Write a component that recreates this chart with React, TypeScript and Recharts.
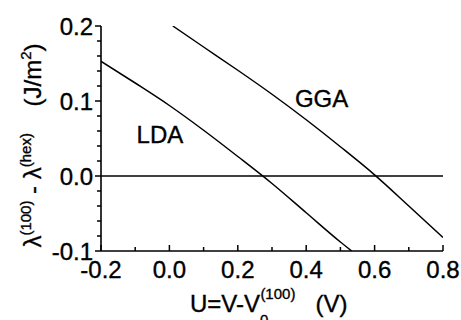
import React from "react";
import {
  LineChart,
  Line,
  XAxis,
  YAxis,
  ReferenceLine,
  ReferenceDot,
  Label,
} from "recharts";

// potential U (V) and surface energy difference (J/m^2)
const ldaU = [-0.2, -0.1, 0.0, 0.1, 0.2, 0.3, 0.4, 0.5, 0.533];
const ldaE = [0.153, 0.124, 0.094, 0.061, 0.026, -0.01, -0.049, -0.088, -0.1];
const ggaU = [0.01, 0.1, 0.2, 0.3, 0.4, 0.5, 0.6, 0.7, 0.8];
const ggaE = [0.2, 0.172, 0.141, 0.109, 0.075, 0.039, 0.0015, -0.04, -0.082];

const xTicks = [-0.2, -0.1, 0.0, 0.1, 0.2, 0.3, 0.4, 0.5, 0.6, 0.7, 0.8];
const xLabelTicks = [-0.2, 0.0, 0.2, 0.4, 0.6, 0.8];
const yTicks = [
  -0.1, -0.08, -0.06, -0.04, -0.02, 0.0, 0.02, 0.04, 0.06, 0.08, 0.1, 0.12,
  0.14, 0.16, 0.18, 0.2,
];
const yLabelTicks = [-0.1, 0.0, 0.1, 0.2];

const ldaData = ldaU.map((u, i) => ({ u, e: ldaE[i] }));
const ggaData = ggaU.map((u, i) => ({ u, e: ggaE[i] }));

const FONT = "'Liberation Sans', Arial, sans-serif";
const textStyle = { fill: "#000", stroke: "#000", strokeWidth: 0.35 };

const hasLabel = (list: number[], v: number) =>
  list.some((t) => Math.abs(t - v) < 1e-6);

const XTick = (props: any) => {
  const { x, y, payload } = props;
  const major = hasLabel(xLabelTicks, payload.value);
  return (
    <g>
      <line x1={x} x2={x} y1={y} y2={y - (major ? 6 : 4)} stroke="#000" strokeWidth={1.5} />
      {major && (
        <text x={x} y={y + 27} textAnchor="middle" fontSize={24} fontFamily={FONT} style={textStyle}>
          {payload.value.toFixed(1)}
        </text>
      )}
    </g>
  );
};

const YTick = (props: any) => {
  const { x, y, payload } = props;
  const major = hasLabel(yLabelTicks, payload.value);
  return (
    <g>
      <line x1={x - (major ? 6 : 4)} x2={x} y1={y} y2={y} stroke="#000" strokeWidth={1.5} />
      {major && (
        <text x={x - 8} y={y + 9} textAnchor="end" fontSize={24} fontFamily={FONT} style={textStyle}>
          {payload.value.toFixed(1)}
        </text>
      )}
    </g>
  );
};

const YTitle = (props: any) => {
  const { viewBox } = props;
  const cx = 41;
  const cy = viewBox.y + viewBox.height / 2 + 7;
  return (
    <text
      x={cx}
      y={cy}
      transform={`rotate(-90 ${cx} ${cy})`}
      textAnchor="middle"
      fontSize={24}
      fontFamily={FONT}
      style={textStyle}
    >
      λ
      <tspan dy={-10} fontSize={15}>(100)</tspan>
      <tspan dy={10}>{"\u00a0-\u00a0λ"}</tspan>
      <tspan dy={-10} fontSize={15}>(hex)</tspan>
      <tspan dy={10}>{"\u00a0\u00a0\u00a0\u00a0(J/m"}</tspan>
      <tspan dy={-10} fontSize={15}>2</tspan>
      <tspan dy={10}>)</tspan>
    </text>
  );
};

const XTitle = (props: any) => {
  const { viewBox } = props;
  const x0 = 190;
  const y0 = viewBox.y + 61;
  return (
    <text x={x0} y={y0} fontSize={24} fontFamily={FONT} style={textStyle}>
      U=V-V
      <tspan dy={13} fontSize={15}>0</tspan>
      <tspan dx={-8} dy={-26} fontSize={15}>(100)</tspan>
      <tspan dy={13}>{"\u00a0\u00a0\u00a0(V)"}</tspan>
    </text>
  );
};

const Annot = (text: string) => (props: any) => {
  const { viewBox } = props;
  return (
    <text x={viewBox.x} y={viewBox.y} fontSize={24} fontFamily={FONT} style={textStyle}>
      {text}
    </text>
  );
};

export default function App() {
  return (
    <div style={{ position: "fixed", left: 0, top: 0, background: "#fff" }}>
      <LineChart width={461} height={320} margin={{ top: 26, right: 18, left: 0, bottom: 0 }}>
        <XAxis
          type="number"
          dataKey="u"
          domain={[-0.2, 0.8]}
          ticks={xTicks}
          interval={0}
          height={69}
          tickSize={0}
          tickMargin={0}
          tickLine={false}
          tick={<XTick />}
          axisLine={{ stroke: "#000", strokeWidth: 1.6 }}
          allowDataOverflow
        >
          <Label content={<XTitle />} />
        </XAxis>
        <YAxis
          type="number"
          dataKey="e"
          domain={[-0.1, 0.2]}
          ticks={yTicks}
          interval={0}
          width={101}
          tickSize={0}
          tickMargin={0}
          tickLine={false}
          tick={<YTick />}
          axisLine={{ stroke: "#000", strokeWidth: 1.6 }}
          allowDataOverflow
        >
          <Label content={<YTitle />} />
        </YAxis>
        <ReferenceLine y={0} stroke="#000" strokeWidth={1.6} />
        <Line
          data={ldaData}
          dataKey="e"
          type="monotone"
          stroke="#000"
          strokeWidth={1.5}
          dot={false}
          isAnimationActive={false}
        />
        <Line
          data={ggaData}
          dataKey="e"
          type="monotone"
          stroke="#000"
          strokeWidth={1.5}
          dot={false}
          isAnimationActive={false}
        />
        <ReferenceDot x={-0.096} y={0.044} r={0} fill="none" stroke="none" label={Annot("LDA")} />
        <ReferenceDot x={0.367} y={0.092} r={0} fill="none" stroke="none" label={Annot("GGA")} />
      </LineChart>
    </div>
  );
}
